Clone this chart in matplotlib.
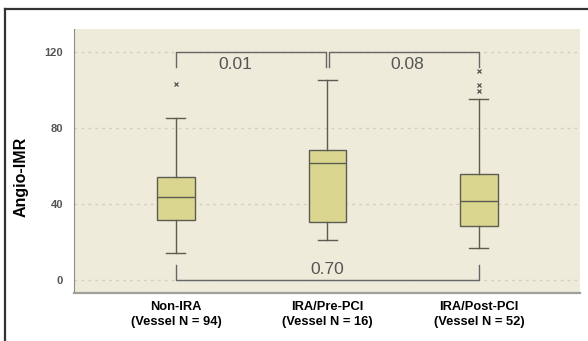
import matplotlib.pyplot as plt
from matplotlib.lines import Line2D

plt.rcParams['font.family'] = ['Liberation Sans', 'DejaVu Sans']

# box statistics
groups = ['Non-IRA\n(Vessel N = 94)', 'IRA/Pre-PCI\n(Vessel N = 16)', 'IRA/Post-PCI\n(Vessel N = 52)']
q1 = [31.4, 30.7, 28.3]
medians = [43.5, 61.7, 41.4]
q3 = [54.0, 68.4, 55.6]
whis_lo = [14.0, 21.0, 17.0]
whis_hi = [85.0, 105.0, 95.3]
outliers = [[103.0], [], [110.0, 102.5, 99.6]]
yticks = [0, 40, 80, 120]
p_top = ['0.01', '0.08']
p_bottom = '0.70'

stats = []
for i in range(len(groups)):
    stats.append({'q1': q1[i], 'med': medians[i], 'q3': q3[i],
                  'whislo': whis_lo[i], 'whishi': whis_hi[i],
                  'fliers': outliers[i], 'label': groups[i]})

fig = plt.figure(figsize=(5.88, 3.41), dpi=100)
ax = fig.add_axes([74/588, 48/341, 506/588, 264/341])
ax.set_facecolor('#eeebdb')

edge = '#5c5c52'
ax.bxp(stats, positions=[1, 2, 3], widths=0.25, capwidths=0.125, patch_artist=True,
       boxprops=dict(facecolor='#dad68f', edgecolor=edge, linewidth=1.0),
       medianprops=dict(color=edge, linewidth=1.0),
       whiskerprops=dict(color=edge, linewidth=1.0),
       capprops=dict(color=edge, linewidth=1.0),
       flierprops=dict(marker='x', markersize=2.5, markeredgecolor='#444444', markeredgewidth=0.8),
       zorder=3)

ax.set_xlim(0.327, 3.667)
ax.set_ylim(-6.84, 132.1)
ax.set_yticks(yticks)
ax.set_yticklabels([str(t) for t in yticks], fontsize=8, fontweight='bold', color='#555555')
ax.set_xticks([1, 2, 3])
ax.set_xticklabels(groups, fontsize=9.3, fontweight='bold', color='black', linespacing=1.25)
ax.tick_params(axis='y', length=0, pad=8)
ax.tick_params(axis='x', length=0, pad=6)

for t in yticks:
    ax.axhline(t, color='#d2cfc2', linewidth=1.0, linestyle=(0, (2, 3)), zorder=1)

for s in ['top', 'right']:
    ax.spines[s].set_visible(False)
ax.spines['left'].set_color('#8c8c84')
ax.spines['bottom'].set_color('#a09f98')
ax.spines['bottom'].set_linewidth(1.6)

ax.set_ylabel('Angio-IMR', fontsize=11.5, fontweight='bold')
ax.yaxis.set_label_coords(-0.09, 0.44)

# significance brackets
bc = '#666666'
d = 0.008
ax.plot([1, 1, 2 - d, 2 - d], [112, 120, 120, 112], color=bc, lw=1.0, zorder=2)
ax.plot([2 + d, 2 + d, 3, 3], [112, 120, 120, 112], color=bc, lw=1.0, zorder=2)
ax.plot([1, 1, 3, 3], [8, 0, 0, 8], color=bc, lw=1.0, zorder=2)
ax.text(1.39, 113.2, p_top[0], fontsize=12.5, color='#555555', ha='center', va='center')
ax.text(2.525, 113.2, p_top[1], fontsize=12.5, color='#555555', ha='center', va='center')
ax.text(2.0, 5.3, p_bottom, fontsize=12.5, color='#555555', ha='center', va='center')

# outer frame
fig.add_artist(Line2D([5/588, 1], [1 - 9/341, 1 - 9/341], color='#333333', lw=1.6))
fig.add_artist(Line2D([5/588, 5/588], [0, 1 - 9/341], color='#333333', lw=1.6))

fig.savefig('out.png', dpi=100)
